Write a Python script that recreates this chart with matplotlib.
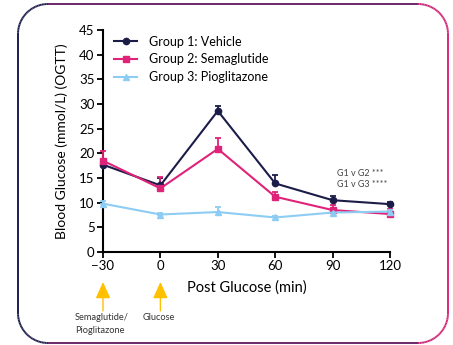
import numpy as np
import matplotlib.pyplot as plt
from matplotlib.collections import LineCollection
from matplotlib.colors import LinearSegmentedColormap
from matplotlib.lines import Line2D
import matplotlib.transforms as mtransforms

plt.rcParams['font.family'] = ['Lato', 'DejaVu Sans']

# time points (min) relative to glucose dose
minutes = [-30, 0, 30, 60, 90, 120]

vehicle = [17.7, 13.5, 28.6, 13.9, 10.5, 9.7]
vehicle_err = [0.9, 1.6, 1.0, 1.7, 0.9, 0.5]

sema = [18.5, 12.9, 20.9, 11.2, 8.5, 7.7]
sema_err = [2.0, 2.3, 2.2, 0.9, 1.1, 1.1]

pio = [9.8, 7.6, 8.1, 7.0, 8.0, 8.2]
pio_err = [0.5, 0.3, 1.0, 0.3, 0.6, 0.4]

labels = ["Group 1: Vehicle", "Group 2: Semaglutide", "Group 3: Pioglitazone"]
colors = ["#1b1d48", "#de2379", "#8dcdf3"]
markers = ["o", "s", "^"]

W, H = 453, 345
fig = plt.figure(figsize=(W / 100, H / 100), dpi=100)

# rounded frame with a left-to-right colour gradient
bg = fig.add_axes([0, 0, 1, 1])
bg.set_xlim(0, W)
bg.set_ylim(H, 0)
bg.axis('off')
x0, x1, y0, y1, r = 18, 448, 4, 343, 30
pts = []
for cx, cy, a0 in [(x1 - r, y0 + r, -90), (x1 - r, y1 - r, 0), (x0 + r, y1 - r, 90), (x0 + r, y0 + r, 180)]:
    t = np.radians(np.linspace(a0, a0 + 90, 30))
    pts += list(zip(cx + r * np.cos(t), cy + r * np.sin(t)))
pts.append(pts[0])
pts = np.array(pts)
segs = np.stack([pts[:-1], pts[1:]], axis=1)
grad = LinearSegmentedColormap.from_list("frame", ["#1c1f4d", "#6a2a6a", "#d6287a"])
lc = LineCollection(segs, cmap=grad, linewidths=1.4)
lc.set_array((segs[:, :, 0].mean(axis=1) - x0) / (x1 - x0))
bg.add_collection(lc)

ax = fig.add_axes([103 / W, 1 - 252 / H, 287 / W, 222 / H])
data = [(vehicle, vehicle_err), (sema, sema_err), (pio, pio_err)]
handles = []
for (vals, err), lab, col, mk in zip(data, labels, colors, markers):
    ax.errorbar(minutes, vals, yerr=[np.zeros(len(err)), err], color=col, marker=mk,
                markersize=4.5, lw=1.5, elinewidth=1.3, capsize=2.5, capthick=1.3,
                clip_on=False, zorder=3)
    handles.append(Line2D([], [], color=col, marker=mk, markersize=4.5, lw=1.5, label=lab))

ax.set_xlim(-30, 120)
ax.set_ylim(0, 45)
ax.set_xticks(minutes)
ax.set_yticks(np.arange(0, 46, 5))
for s in ['top', 'right']:
    ax.spines[s].set_visible(False)
for s in ['left', 'bottom']:
    ax.spines[s].set_linewidth(1.5)
ax.tick_params(direction='out', length=4, width=1.3, labelsize=9.5, pad=2)
ax.set_xlabel("Post Glucose (min)", fontsize=10.5, labelpad=6)
ax.set_ylabel("Blood Glucose (mmol/L) (OGTT)", fontsize=10, labelpad=8)

ax.legend(handles=handles, loc='upper left', bbox_to_anchor=(0.0, 1.025), frameon=False,
          fontsize=9, handlelength=1.8, handletextpad=1.0, labelspacing=0.45)

ax.text(92.5, 16.0, "G1 v G2 ***", fontsize=6.5, color="#444444", va='center')
ax.text(92.5, 13.6, "G1 v G3 ****", fontsize=6.5, color="#444444", va='center')

# dosing arrows under the x axis
trans = mtransforms.blended_transform_factory(ax.transData, ax.transAxes)
for xd in [-30, 0]:
    ax.annotate("", xy=(xd, -0.135), xytext=(xd, -0.265), xycoords=trans, textcoords=trans,
                arrowprops=dict(arrowstyle="-|>,head_width=0.45,head_length=1.0",
                                color="#ffc000", lw=1.0, shrinkA=0, shrinkB=0),
                annotation_clip=False)

fig.text(75 / W, 1 - 324 / H, "Semaglutide/\nPioglitazone", fontsize=6.7, color="#333333",
         va='center', ha='left', linespacing=1.5)
fig.text(143 / W, 1 - 318 / H, "Glucose", fontsize=6.7, color="#333333", va='center', ha='left')

fig.savefig("out.png", dpi=100)
